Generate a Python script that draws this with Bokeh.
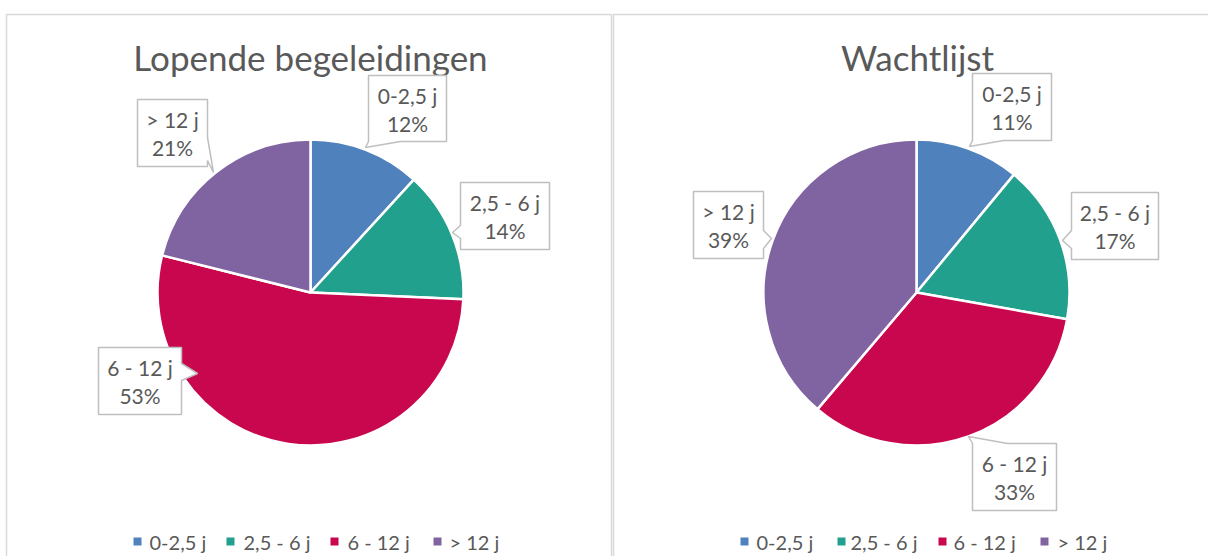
import numpy as np
from bokeh.plotting import figure
from bokeh.models import Range1d, ColumnDataSource
from bokeh.core.properties import value
from bokeh.embed import file_html
from bokeh.resources import INLINE

# ---- data ----
categories = ["0-2,5 j", "2,5 - 6 j", "6 - 12 j", "> 12 j"]
lopende = [11.8, 13.9, 53.2, 21.1]
wachtlijst = [11.0, 16.8, 33.4, 38.8]
titles = ["Lopende begeleidingen", "Wachtlijst"]
colors = ["#4F81BD", "#21A08E", "#C8074F", "#8064A2"]

FONT = value("Lato")
TXT = "#595959"
W, H = 1208, 556

p = figure(width=W, height=H, x_range=Range1d(0, W), y_range=Range1d(0, H),
           output_backend="svg", toolbar_location=None, min_border=0)
p.axis.visible = False
p.grid.visible = False
p.outline_line_color = None
p.background_fill_color = "white"
p.border_fill_color = "white"


def Y(sy):
    return H - sy


# panel borders
p.quad(left=[6, 613], right=[611, 1215], top=[Y(14), Y(14)], bottom=[Y(620), Y(620)],
       fill_color=None, line_color="#D9D9D9", line_width=1.5)


def callout(l, t, r, b, side, a0, a1, tip):
    tx, ty = tip
    if side == "top":
        pts = [(l, t), (a0, t), (tx, ty), (a1, t), (r, t), (r, b), (l, b)]
    elif side == "right":
        pts = [(l, t), (r, t), (r, a0), (tx, ty), (r, a1), (r, b), (l, b)]
    elif side == "bottom":
        pts = [(l, t), (r, t), (r, b), (a1, b), (tx, ty), (a0, b), (l, b)]
    else:
        pts = [(l, t), (r, t), (r, b), (l, b), (l, a1), (tx, ty), (l, a0)]
    return [x for x, _ in pts], [Y(y) for _, y in pts]


panels = [
    dict(title=titles[0], vals=lopende, cx=310, cy=292, r=153, tx=310,
         callouts=[(368, 75, 446, 141, "bottom", 368, 400, (365, 147)),
                   (460, 182, 549, 249, "left", 225, 238, (452, 232)),
                   (98, 347, 181, 414, "right", 363, 380, (197, 373)),
                   (137, 99, 207, 166, "right", 137, 160, (213, 172))],
         leg_sq=[137, 230, 334, 437], leg_tx=[149, 243, 347, 449]),
    dict(title=titles[1], vals=wachtlijst, cx=916, cy=292, r=153, tx=917,
         callouts=[(972, 73, 1051, 140, "bottom", 972, 1003, (969, 146)),
                   (1071, 192, 1158, 259, "left", 230, 248, (1062, 240)),
                   (972, 443, 1056, 510, "top", 972, 1007, (968, 436)),
                   (693, 191, 763, 258, "right", 230, 248, (771, 238))],
         leg_sq=[744, 841, 942, 1044], leg_tx=[756, 850, 953, 1057]),
]

for pn in panels:
    vals = np.array(pn["vals"], dtype=float)
    frac = vals / vals.sum()
    cum = np.concatenate([[0.0], np.cumsum(frac)])
    start = np.pi / 2 - 2 * np.pi * cum[1:]
    end = np.pi / 2 - 2 * np.pi * cum[:-1]
    src = ColumnDataSource(dict(x=[pn["cx"]] * 4, y=[Y(pn["cy"])] * 4,
                                s=start, e=end, c=colors))
    p.wedge(x="x", y="y", radius=pn["r"], radius_units="screen", start_angle="s",
            end_angle="e", fill_color="c", line_color="white", line_width=2.5, source=src)

    # title
    p.text(x=[pn["tx"]], y=[Y(56)], text=[pn["title"]], text_font=FONT,
           text_font_size="35px", text_color=TXT, text_align="center",
           text_baseline="middle")

    # callouts
    xs, ys, lx, ly1, ly2, t1, t2 = [], [], [], [], [], [], []
    for i, c in enumerate(pn["callouts"]):
        l, t, r, b = c[:4]
        px, py = callout(*c)
        xs.append(px)
        ys.append(py)
        lx.append((l + r) / 2)
        ly1.append(Y(t + 20))
        ly2.append(Y(t + 48))
        t1.append(categories[i])
        t2.append(f"{round(vals[i])}%")
    p.patches(xs=xs, ys=ys, fill_color="white", line_color="#BFBFBF", line_width=1.5)
    p.text(x=lx, y=ly1, text=t1, text_font=FONT, text_font_size="21px",
           text_color=TXT, text_align="center", text_baseline="middle")
    p.text(x=lx, y=ly2, text=t2, text_font=FONT, text_font_size="21px",
           text_color=TXT, text_align="center", text_baseline="middle")

    # legend
    p.rect(x=pn["leg_sq"], y=[Y(541)] * 4, width=8, height=8, width_units="screen",
           height_units="screen", fill_color=colors, line_color=None)
    p.text(x=pn["leg_tx"], y=[Y(541)] * 4, text=categories, text_font=FONT,
           text_font_size="20px", text_color=TXT, text_align="left",
           text_baseline="middle")

open("out.html", "w").write(file_html(p, INLINE))
